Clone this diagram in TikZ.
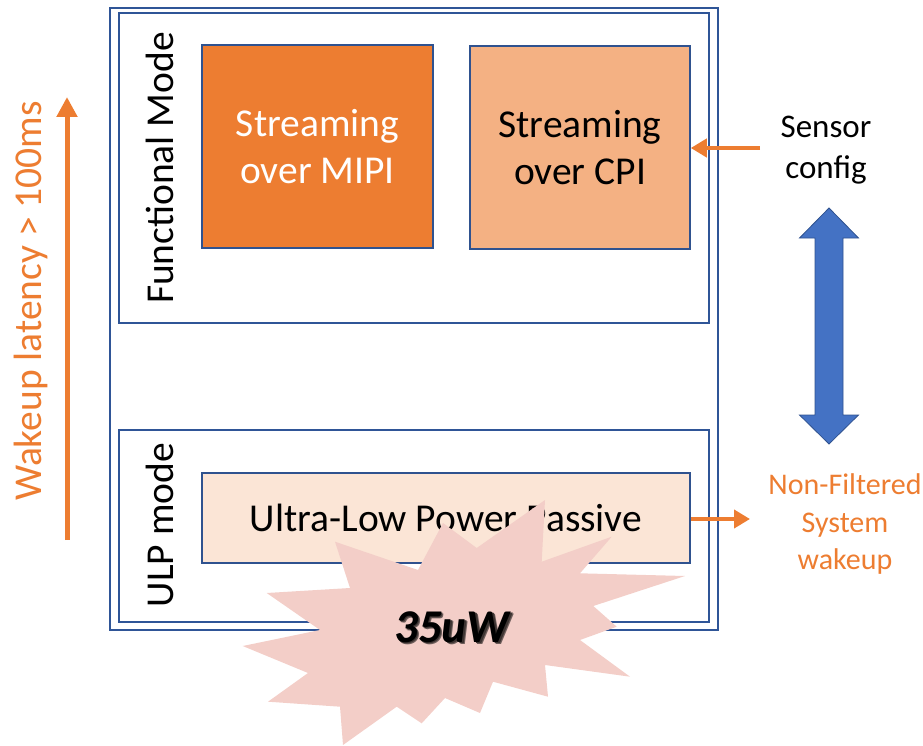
\documentclass[tikz,border=0pt]{standalone}
\usepackage{fontspec}
\setmainfont{Carlito}
\usetikzlibrary{arrows.meta}

\definecolor{frameblue}{HTML}{2F5597}
\definecolor{boxblue}{HTML}{2F528F}
\definecolor{accent}{HTML}{ED7D31}
\definecolor{lightorange}{HTML}{F4B183}
\definecolor{paleorange}{HTML}{FBE5D6}
\definecolor{burst}{HTML}{F3CEC8}
\definecolor{arrowblue}{HTML}{4472C4}

\tikzset{
  frame/.style={draw=frameblue, line width=1.6pt, inner sep=0pt, fill=none},
  modebox/.style={draw=boxblue, line width=1.5pt, inner sep=0pt, align=center},
  bigtext/.style={font=\fontsize{39.5}{46.5}\selectfont},
  sidetext/.style={font=\fontsize{33}{41}\selectfont, align=center, inner sep=0pt},
  notetext/.style={font=\fontsize{30}{37.5}\selectfont, align=center, inner sep=0pt, text=accent},
  vlabel/.style={bigtext, rotate=90, inner sep=0pt},
  flow/.style={draw=accent, line width=4.5pt, -{Triangle[length=16pt,width=18pt]}},
}

% bold italic figure with a soft dark shadow behind it
\newcommand{\shadowedfig}[1]{%
  \rlap{\kern2.6pt\raisebox{-2.6pt}{\color{burst!45!black}#1}}%
  \rlap{\kern1.4pt\raisebox{-1.4pt}{\color{burst!25!black}#1}}%
  #1}

\begin{document}
\begin{tikzpicture}[x=1pt,y=-1pt]
  \useasboundingbox (0,0) rectangle (923,746);

  % outer chip frame and the two mode frames
  \node[frame, minimum width=608pt, minimum height=622pt] (chip) at (414,319) {};
  \node[frame, minimum width=590pt, minimum height=310pt] (func) at (414,168) {};
  \node[frame, minimum width=590pt, minimum height=192pt] (ulp) at (414,526) {};

  % mode labels
  \node[vlabel] (funclbl) at (160,168) {Functional Mode};
  \node[vlabel] (ulplbl) at (160,525) {ULP mode};

  % streaming blocks
  \node[modebox, bigtext, fill=accent, text=white,
        minimum width=231pt, minimum height=203pt] (mipi) at (317.5,146.5)
        {Streaming\\over MIPI};
  \node[modebox, bigtext, fill=lightorange, text=black,
        minimum width=220pt, minimum height=203pt] (cpi) at (580,147.5)
        {Streaming\\over CPI};

  % passive block
  \node[modebox, bigtext, fill=paleorange, text=black,
        minimum width=488pt, minimum height=90pt] (passive) at (446,518)
        {Ultra-Low Power Passive};

  % power burst
  \fill[burst] (545,500) -- (541.7,561.7) -- (611.7,536.7) -- (580,573.3)
    -- (685,576) -- (593.3,606) -- (616.7,626.7) -- (580,640) -- (630,676.7)
    -- (545,665) -- (548,696.7) -- (493,681.7) -- (480,713) -- (445,698)
    -- (421.7,723.3) -- (396.7,706.7) -- (343,745) -- (340,706.7)
    -- (268,701.7) -- (308,673) -- (242.7,646) -- (320,630) -- (266.7,593)
    -- (350,588) -- (335,541.7) -- (418,570) -- (443,523) -- (476.7,548)
    -- cycle;
  \node[font=\fontsize{47}{50}\selectfont\bfseries\itshape, text=black,
        inner sep=0pt] (power) at (451.7,628.3) {\shadowedfig{35uW}};

  % wakeup latency axis
  \coordinate (latlow) at (67,540);
  \coordinate (lathigh) at (67,97);
  \draw[flow, line width=5pt, -{Triangle[length=20pt,width=20pt]}] (latlow) -- (lathigh);
  \node[vlabel, text=accent] (latlbl) at (31,301) {Wakeup latency > 100ms};

  % sensor configuration input
  \node[sidetext] (sensor) at (826,150) {Sensor\\config};
  \coordinate (sensorin) at (760,148);
  \draw[flow] (sensorin) -- (sensorin -| cpi.east);

  % system wakeup output
  \node[notetext] (wake) at (845,524) {Non-Filtered\\System\\wakeup};
  \coordinate (wakeout) at (750,519);
  \draw[flow] (passive.east |- wakeout) -- (wakeout);

  % transition between the two modes
  \filldraw[fill=arrowblue, draw=boxblue, line width=0.8pt]
    (829,208) -- (858.5,238) -- (843,238) -- (843,415) -- (858.5,415)
    -- (829,444) -- (799.5,415) -- (815,415) -- (815,238) -- (799.5,238) -- cycle;
\end{tikzpicture}
\end{document}
